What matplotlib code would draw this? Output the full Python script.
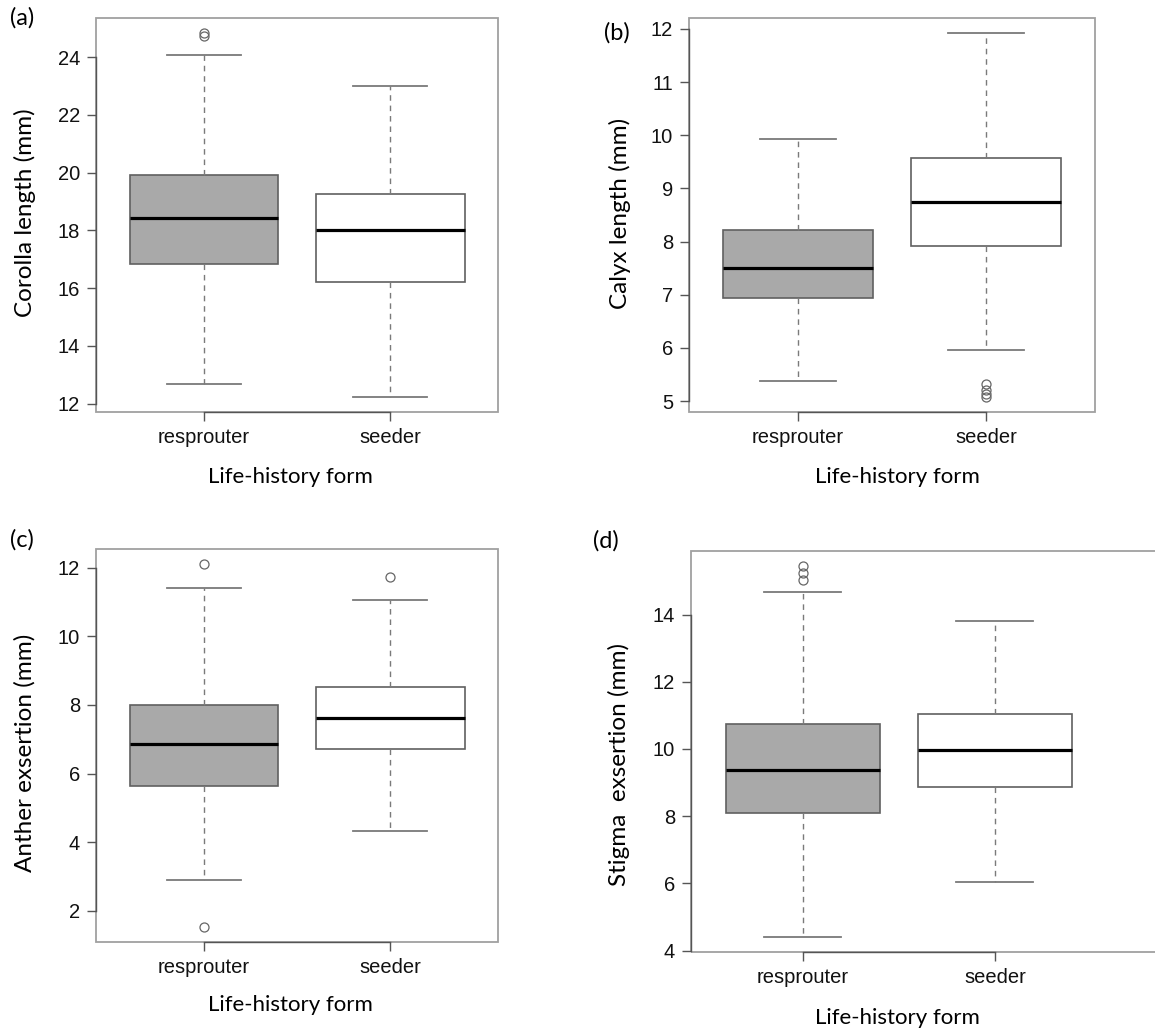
import matplotlib
matplotlib.use("Agg")
import matplotlib.pyplot as plt
from matplotlib.patches import Rectangle
import numpy as np

groups = ["resprouter", "seeder"]

# five-number summaries: whislo, q1, med, q3, whishi
corolla = [[12.68, 16.83, 18.42, 19.93, 24.08], [12.22, 16.22, 18.00, 19.25, 23.00]]
corolla_out = [[24.85, 24.74], []]

calyx = [[5.37, 6.93, 7.51, 8.22, 9.92], [5.96, 7.91, 8.74, 9.57, 11.93]]
calyx_out = [[], [5.33, 5.20, 5.13, 5.07]]

anther = [[2.91, 5.64, 6.87, 8.01, 11.40], [4.33, 6.72, 7.63, 8.52, 11.05]]
anther_out = [[12.12, 1.52], [11.72]]

stigma = [[4.40, 8.09, 9.38, 10.74, 14.67], [6.04, 8.87, 9.96, 11.03, 13.82]]
stigma_out = [[15.45, 15.25, 15.03], []]

panels = [
    ("(a)", "Corolla length (mm)", corolla, corolla_out, np.arange(12, 25, 2)),
    ("(b)", "Calyx length (mm)", calyx, calyx_out, np.arange(5, 13, 1)),
    ("(c)", "Anther exsertion (mm)", anther, anther_out, np.arange(2, 13, 2)),
    ("(d)", "Stigma  exsertion (mm)", stigma, stigma_out, np.arange(4, 15, 2)),
]
fills = ["#a9a9a9", "white"]

W, H = 1155, 1034
fig = plt.figure(figsize=(W / 100, H / 100), dpi=100)

# axes boxes in pixels: left, right, top, bottom
boxes = [(96, 498, 18, 412), (689, 1095, 18, 412),
         (96, 498, 549, 942), (691, 1170, 551, 952)]
xlims = [(0.42, 2.58), (0.42, 2.58), (0.42, 2.58), (0.42, 2.91)]
tags = [(10, 18), (604, 33), (10, 540), (593, 541)]
ylab_x = [25, 620, 25, 619]
ylab_y = [213, 213, 753, 765]
xlab = [(290, 477), (897, 477), (290, 1005), (897, 1018)]

lab_font = ["Lato", "DejaVu Sans"]
edge = "#606060"
wcol = "#7a7a7a"

for i, (tag, ylabel, summ, outl, yt) in enumerate(panels):
    l, r, t, b = boxes[i]
    ax = fig.add_axes([l / W, 1 - b / H, (r - l) / W, (b - t) / H])
    stats = []
    for j, g in enumerate(groups):
        lo, q1, med, q3, hi = summ[j]
        stats.append(dict(label=g, whislo=lo, q1=q1, med=med, q3=q3, whishi=hi,
                          fliers=np.array(outl[j])))
    bp = ax.bxp(stats, positions=[1, 2], widths=0.8, capwidths=0.4, patch_artist=True,
                boxprops=dict(edgecolor=edge, linewidth=1.2),
                medianprops=dict(color="black", linewidth=2.3, solid_capstyle="butt"),
                whiskerprops=dict(color=wcol, linewidth=1.0, linestyle=(0, (4, 3.5))),
                capprops=dict(color=wcol, linewidth=1.3),
                flierprops=dict(marker="o", markersize=6.5, markerfacecolor="none",
                                markeredgecolor="#666666", markeredgewidth=0.9))
    for patch, fc in zip(bp["boxes"], fills):
        patch.set_facecolor(fc)

    # R style: data range plus 4 %
    allv = [v for s in summ for v in (s[0], s[-1])] + [v for o in outl for v in o]
    lo, hi = min(allv), max(allv)
    pad = 0.04 * (hi - lo)
    ax.set_ylim(lo - pad, hi + pad)
    ax.set_xlim(*xlims[i])
    ax.set_yticks(yt)
    ax.set_xticks([1, 2])
    ax.set_xticklabels(groups)

    for s in ["top", "right"]:
        ax.spines[s].set_visible(False)
    for s in ["left", "bottom"]:
        ax.spines[s].set_color("#555555")
        ax.spines[s].set_linewidth(1.0)
    ax.spines["left"].set_bounds(yt[0], yt[-1])
    ax.spines["bottom"].set_bounds(1, 2)
    ax.add_patch(Rectangle((0, 0), 1, 1, transform=ax.transAxes, fill=False,
                           edgecolor="#a0a0a0", linewidth=1.3, clip_on=False, zorder=0.5))
    ax.tick_params(direction="out", length=6.5, width=1.0, color="#555555", pad=5,
                   labelsize=14.5, labelcolor="#111111")
    for lab in ax.get_xticklabels() + ax.get_yticklabels():
        lab.set_family("Liberation Sans")

    fig.text(tags[i][0] / W, 1 - tags[i][1] / H, tag, fontsize=17, family=lab_font,
             ha="left", va="center")
    fig.text(ylab_x[i] / W, 1 - ylab_y[i] / H, ylabel, fontsize=17.5, family=lab_font,
             rotation=90, ha="center", va="center")
    fig.text(xlab[i][0] / W, 1 - xlab[i][1] / H, "Life-history form", fontsize=16,
             family=lab_font, ha="center", va="center")

fig.savefig("out.png", dpi=100)
